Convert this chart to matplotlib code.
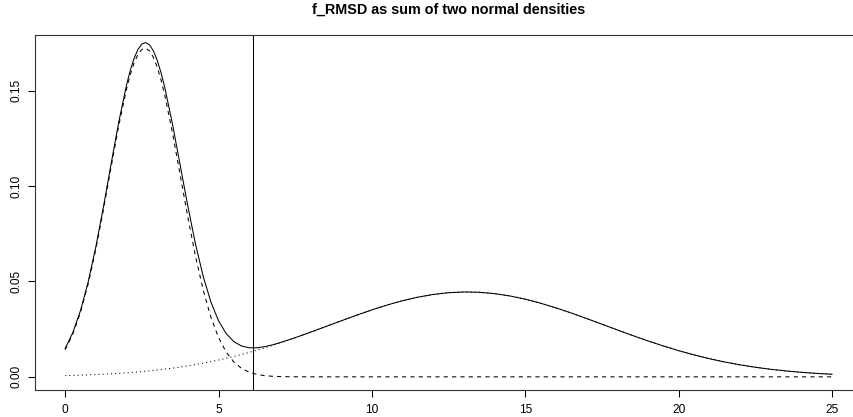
import numpy as np
import matplotlib
matplotlib.use("Agg")
import matplotlib.pyplot as plt

plt.rcParams['font.family'] = ['Liberation Sans', 'DejaVu Sans']

# x positions where the densities were read (finer around the first peak)
rmsd = np.concatenate([np.arange(0, 1.99, 0.25), np.arange(2.0, 3.2, 0.125),
                       np.arange(3.25, 8.01, 0.25), np.arange(8.5, 25.01, 0.5)])

# first normal component (dashed), zero past x = 8
dens_low = [0.01422, 0.02245, 0.03385, 0.04873, 0.06700, 0.08795, 0.11025, 0.13198,
            0.15087, 0.15854, 0.16469, 0.16911, 0.17167, 0.17226, 0.17088, 0.16756,
            0.16242, 0.15564,
            0.14743, 0.12778, 0.10577, 0.08360, 0.06309, 0.04547, 0.03130, 0.02057,
            0.01291, 0.00774, 0.00443, 0.00242, 0.00126, 0.00063, 0.00030, 0.00014,
            0.00006, 0.00002, 0.00001, 0.0] + [0.0] * 34

# second normal component (dotted)
dens_high = [0.00064, 0.00076, 0.00088, 0.00103, 0.00120, 0.00139, 0.00160, 0.00185,
             0.00212, 0.00228, 0.00243, 0.00260, 0.00278, 0.00297, 0.00316, 0.00337,
             0.00359, 0.00382,
             0.00406, 0.00457, 0.00514, 0.00576, 0.00643, 0.00717, 0.00796, 0.00881,
             0.00972, 0.01069, 0.01172, 0.01282, 0.01397, 0.01518, 0.01644, 0.01776,
             0.01912, 0.02052, 0.02195, 0.02341,
             0.02639, 0.02938, 0.03231, 0.03510, 0.03766, 0.03991, 0.04177,
             0.04319, 0.04411, 0.04449, 0.04433, 0.04362, 0.04240, 0.04071,
             0.03860, 0.03615, 0.03345, 0.03057, 0.02759, 0.02460, 0.02166,
             0.01884, 0.01619, 0.01373, 0.01151, 0.00953, 0.00779, 0.00630,
             0.00502, 0.00396, 0.00308, 0.00237, 0.00180, 0.00135]

threshold = 6.13

x_ticks = [0, 5, 10, 15, 20, 25]
y_ticks = [0.00, 0.05, 0.10, 0.15]
y_labels = ["0.00", "0.05", "0.10", "0.15"]

W, H = 854, 417
fig = plt.figure(figsize=(W / 100, H / 100), dpi=100)
# plot region runs past the right edge of the picture, as in the original
left, right, top, bottom = 34.5, 862.7, 35, 390
ax = fig.add_axes([left / W, 1 - bottom / H, (right - left) / W, (bottom - top) / H])

total = np.array(dens_low) + np.array(dens_high)

ax.plot(rmsd, dens_low, color='black', lw=0.75, dashes=(4, 4))
ax.plot(rmsd, total, color='black', lw=0.75)
ax.plot(rmsd, dens_high, color='black', lw=0.75, dashes=(1, 3))
ax.axvline(threshold, color='black', lw=0.75)

ax.set_xlim(-1, 26)
ax.set_ylim(-0.0069, 0.1792)

ax.set_xticks(x_ticks)
ax.set_xticklabels([str(t) for t in x_ticks])
ax.set_yticks(y_ticks)
ax.set_yticklabels(y_labels, rotation=90, va='center')
ax.tick_params(direction='out', length=5, width=0.75, labelsize=8.6, colors='black')
ax.tick_params(axis='x', pad=5)
ax.tick_params(axis='y', pad=4)

for s in ax.spines.values():
    s.set_linewidth(0.8)
    s.set_color('#333333')
ax.spines['right'].set_visible(False)

fig.text((left + right) / 2 / W, 1 - 10 / H, "f_RMSD as sum of two normal densities",
         ha='center', va='center', fontsize=10.4, fontweight='bold')

fig.savefig("out.png", dpi=100)
